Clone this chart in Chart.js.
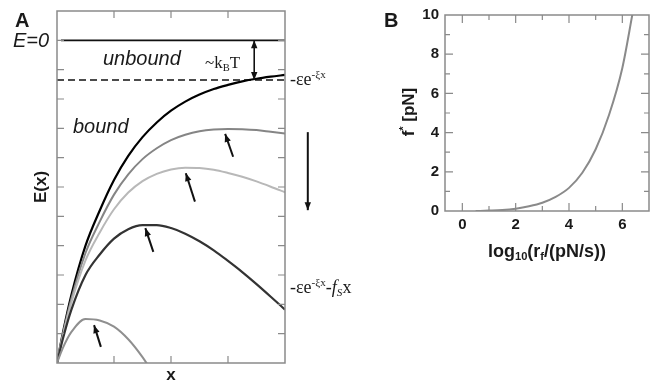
<!DOCTYPE html>
<html>
<head>
<meta charset="utf-8">
<script src="https://cdn.jsdelivr.net/npm/chart.js@4.4.1/dist/chart.umd.min.js"></script>
<style>
  body { margin: 0; background: #fff; }
  #wrap { position: relative; width: 654px; height: 386px; overflow: hidden; }
  canvas { position: absolute; top: 0; }
  #chartA { left: 0; }
  #chartB { left: 380px; }
  .t { position: absolute; line-height: 1; white-space: nowrap; color: #1a1a1a; }
  .sans { font-family: "Liberation Sans", Arial, sans-serif; }
  .serif { font-family: "Liberation Serif", "Times New Roman", serif; }
  .it { font-style: italic; }
  .b { font-weight: bold; }
  .sp { font-size: 0.62em; position: relative; top: -0.65em; }
  .sb { font-size: 0.62em; position: relative; top: 0.3em; }
</style>
</head>
<body>
<div id="wrap">
  <canvas id="chartA" width="340" height="386"></canvas>
  <canvas id="chartB" width="274" height="386"></canvas>

  <div class="t sans b" style="left:15px;top:10px;font-size:20px">A</div>
  <div class="t sans b" style="left:384px;top:10px;font-size:20px">B</div>
  <div class="t sans it" style="left:13px;top:30px;font-size:20px">E=0</div>
  <div class="t sans it" style="left:103px;top:48px;font-size:20px">unbound</div>
  <div class="t sans it" style="left:73px;top:116px;font-size:20px">bound</div>
  <div class="t serif" style="left:205px;top:54px;font-size:17px">~k<span class="sb">B</span>T</div>
  <div class="t serif" style="left:290px;top:70px;font-size:18px">-&epsilon;e<span class="sp">-&xi;x</span></div>
  <div class="t serif" style="left:290px;top:278px;font-size:18px">-&epsilon;e<span class="sp">-&xi;x</span>-<i>f<span class="sb">S</span></i>x</div>

  <div class="t sans b" style="left:408px;top:112px;font-size:17px;transform:translate(-50%,-50%) rotate(-90deg)">f<span class="sp">*</span> [pN]</div>
  <div class="t sans b" style="left:547px;top:242px;font-size:18px;transform:translateX(-50%)">log<span class="sb">10</span>(r<span class="sb">f</span>/(pN/s))</div>
</div>

<script>
// panel A: energy landscape E(x) for increasing force
const xA = [0, 0.1, 0.25, 0.5, 0.75, 1, 1.25, 1.5, 1.75, 2, 2.25, 2.5, 2.75, 3, 3.25, 3.5, 3.75, 4];
const eNoForce = [-11, -10.0, -8.7, -7.0, -5.8, -4.76, -3.94, -3.30, -2.80, -2.40, -2.09, -1.85, -1.66, -1.52, -1.40, -1.31, -1.24, -1.18];
const eForce1 = [-11, -10.05, -8.83, -7.25, -6.18, -5.26, -4.57, -4.05, -3.68, -3.40, -3.22, -3.10, -3.04, -3.02, -3.03, -3.06, -3.12, -3.18];
const eForce2 = [-11, -10.1, -8.95, -7.5, -6.55, -5.76, -5.19, -4.80, -4.55, -4.40, -4.34, -4.35, -4.41, -4.52, -4.65, -4.81, -4.99, -5.18];
const eForce3 = [-11, -10.2, -9.2, -8.0, -7.3, -6.76, -6.44, -6.30, -6.30, -6.40, -6.59, -6.85, -7.16, -7.52, -7.90, -8.31, -8.74, -9.18];
const eForce4 = [-11, -10.5, -9.95, -9.5, -9.55, -9.76, -10.19, -10.8, -11.55];
const eZero = 0;
const eDash = -1.35;

// panel B: most probable rupture force vs loading rate
const logRate = [0.5, 1, 1.5, 2, 2.5, 3, 3.5, 4, 4.5, 5, 5.5, 6, 6.4];
const fStar = [0, 0.02, 0.05, 0.12, 0.24, 0.42, 0.72, 1.18, 1.95, 3.15, 4.9, 7.3, 10.2];
const ticksBX = [0, 1, 2, 3, 4, 5, 6, 7];
const ticksBY = [0, 1, 2, 3, 4, 5, 6, 7, 8, 9, 10];

const sans = '"Liberation Sans", Arial, sans-serif';

function pts(xs, ys) {
  return ys.map((v, i) => ({x: xs[i], y: v}));
}

function curve(data, color, width) {
  return {
    data: data, borderColor: color, borderWidth: width, pointRadius: 0,
    cubicInterpolationMode: 'monotone', fill: false
  };
}

// box around the plot with inward ticks on all four sides
const frameTicks = {
  id: 'frameTicks',
  afterDraw(chart, args, opts) {
    const {ctx, chartArea: a, scales: {x, y}} = chart;
    const len = v => (opts.minor && Math.round(v) % 2 !== 0) ? opts.minor : opts.major;
    const ok = (s, v) => Math.abs(v - Math.round(v)) < 1e-6 && v > s.min && v < s.max;
    ctx.save();
    ctx.strokeStyle = opts.color;
    ctx.lineWidth = 1.5;
    ctx.strokeRect(a.left, a.top, a.right - a.left, a.bottom - a.top);
    ctx.lineWidth = 1.2;
    ctx.beginPath();
    x.ticks.forEach(t => {
      if (!ok(x, t.value)) return;
      const px = x.getPixelForValue(t.value), l = len(t.value);
      ctx.moveTo(px, a.bottom); ctx.lineTo(px, a.bottom - l);
      ctx.moveTo(px, a.top); ctx.lineTo(px, a.top + l);
    });
    y.ticks.forEach(t => {
      if (!ok(y, t.value)) return;
      const py = y.getPixelForValue(t.value), l = len(t.value);
      ctx.moveTo(a.left, py); ctx.lineTo(a.left + l, py);
      ctx.moveTo(a.right, py); ctx.lineTo(a.right - l, py);
    });
    ctx.stroke();
    ctx.restore();
  }
};

function arrowHead(ctx, x0, y0, x1, y1) {
  const ang = Math.atan2(y1 - y0, x1 - x0), L = 8, W = 3.2;
  const c = Math.cos(ang), s = Math.sin(ang);
  ctx.beginPath();
  ctx.moveTo(x1, y1);
  ctx.lineTo(x1 - L * c + W * s, y1 - L * s - W * c);
  ctx.lineTo(x1 - L * c - W * s, y1 - L * s + W * c);
  ctx.closePath();
  ctx.fill();
}

const arrowMarks = {
  id: 'arrowMarks',
  afterDatasetsDraw(chart, args, opts) {
    const {ctx, scales: {x, y}} = chart;
    ctx.save();
    ctx.strokeStyle = ctx.fillStyle = '#111';
    opts.items.forEach(a => {
      const x0 = x.getPixelForValue(a.from[0]), y0 = y.getPixelForValue(a.from[1]);
      const x1 = x.getPixelForValue(a.to[0]), y1 = y.getPixelForValue(a.to[1]);
      ctx.lineWidth = a.w;
      ctx.beginPath(); ctx.moveTo(x0, y0); ctx.lineTo(x1, y1); ctx.stroke();
      arrowHead(ctx, x0, y0, x1, y1);
      if (a.both) arrowHead(ctx, x1, y1, x0, y0);
    });
    ctx.restore();
  }
};

new Chart(document.getElementById('chartA'), {
  type: 'line',
  data: {
    datasets: [
      curve(pts(xA, eForce4), '#8f8f8f', 2),
      curve(pts(xA, eForce3), '#333', 2.2),
      curve(pts(xA, eForce2), '#b8b8b8', 2),
      curve(pts(xA, eForce1), '#858585', 2),
      curve(pts(xA, eNoForce), '#000', 2.2),
      curve([{x: 0.07, y: eZero}, {x: 4, y: eZero}], '#111', 1.6),
      Object.assign(curve([{x: 0, y: eDash}, {x: 4, y: eDash}], '#111', 1.6), {borderDash: [7, 4]})
    ]
  },
  options: {
    responsive: false,
    animation: false,
    layout: {padding: {left: 0, top: 11, right: 55, bottom: 0}},
    plugins: {
      legend: {display: false},
      tooltip: {enabled: false},
      frameTicks: {color: '#8a8a8a', major: 7},
      arrowMarks: {
        items: [
          {from: [3.09, -3.97], to: [2.95, -3.19], w: 2},
          {from: [2.42, -5.50], to: [2.26, -4.53], w: 2},
          {from: [1.69, -7.21], to: [1.55, -6.40], w: 2},
          {from: [0.77, -10.45], to: [0.65, -9.71], w: 2},
          {from: [4.40, -3.13], to: [4.40, -5.79], w: 2},
          {from: [3.46, eZero], to: [3.46, eDash], w: 1.6, both: true}
        ]
      }
    },
    scales: {
      x: {
        type: 'linear', min: 0, max: 4,
        ticks: {stepSize: 1, display: false},
        grid: {display: false}, border: {display: false},
        title: {display: true, text: 'x', color: '#1a1a1a', padding: 0,
          font: {family: sans, size: 17, weight: 'bold'}},
        afterFit: s => { s.height = 23; }
      },
      y: {
        min: -11, max: 1,
        ticks: {stepSize: 1, display: false},
        grid: {display: false}, border: {display: false},
        title: {display: true, text: 'E(x)', color: '#1a1a1a', padding: {top: 31, bottom: 0},
          font: {family: sans, size: 17, weight: 'bold'}},
        afterFit: s => { s.width = 57; }
      }
    }
  },
  plugins: [frameTicks, arrowMarks]
});

const evenLabel = v => (Number.isInteger(v) && v % 2 === 0) ? String(v) : '';

new Chart(document.getElementById('chartB'), {
  type: 'line',
  data: {
    datasets: [curve(pts(logRate, fStar), '#8a8a8a', 2)]
  },
  options: {
    responsive: false,
    animation: false,
    layout: {padding: {left: 0, top: 14, right: 4, bottom: 120}},
    plugins: {
      legend: {display: false},
      tooltip: {enabled: false},
      frameTicks: {color: '#8a8a8a', major: 8, minor: 5}
    },
    scales: {
      x: {
        type: 'linear', min: -0.65, max: 7,
        afterBuildTicks: s => { s.ticks = ticksBX.map(v => ({value: v})); },
        ticks: {autoSkip: false, maxRotation: 0, padding: 5, color: '#1a1a1a',
          font: {family: sans, size: 15, weight: 'bold'}, callback: evenLabel},
        grid: {display: false, drawTicks: false}, border: {display: false},
        afterFit: s => { s.height = 55; }
      },
      y: {
        min: 0, max: 10,
        afterBuildTicks: s => { s.ticks = ticksBY.map(v => ({value: v})); },
        ticks: {autoSkip: false, padding: 6, color: '#1a1a1a',
          font: {family: sans, size: 15, weight: 'bold'}, callback: evenLabel},
        grid: {display: false, drawTicks: false}, border: {display: false},
        afterFit: s => { s.width = 65; }
      }
    }
  },
  plugins: [frameTicks]
});
</script>
</body>
</html>
